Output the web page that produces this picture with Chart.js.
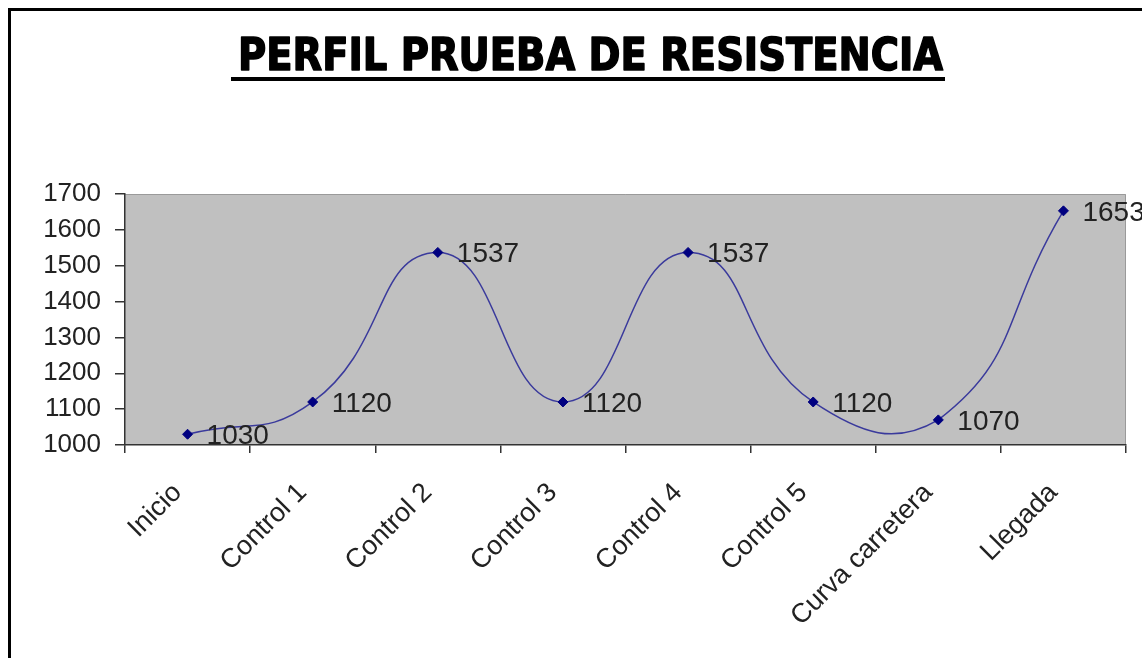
<!DOCTYPE html>
<html>
<head>
<meta charset="utf-8">
<title>Perfil prueba de resistencia</title>
<script src="https://cdn.jsdelivr.net/npm/chart.js@4.4.0/dist/chart.umd.min.js"></script>
<style>
  html, body { margin: 0; padding: 0; background: #fff; }
  #wrap { width: 1142px; height: 658px; }
</style>
</head>
<body>
<div id="wrap"><canvas id="perfil" width="1142" height="658"></canvas></div>
<script>
// datos del perfil
const titulo = 'PERFIL PRUEBA DE RESISTENCIA';
const puntos = ['Inicio', 'Control 1', 'Control 2', 'Control 3', 'Control 4', 'Control 5', 'Curva carretera', 'Llegada'];
const altitudes = [1030, 1120, 1537, 1120, 1537, 1120, 1070, 1653];
const ticksY = [1000, 1100, 1200, 1300, 1400, 1500, 1600, 1700];

const fuenteTexto = "'Liberation Sans', Arial, sans-serif";

// fondo blanco, marco exterior y zona gris del gráfico
const fondoPlugin = {
    id: 'fondo',
    beforeDraw(chart) {
        const ctx = chart.ctx;
        const a = chart.chartArea;
        ctx.save();
        ctx.fillStyle = '#fff';
        ctx.fillRect(0, 0, chart.width, chart.height);
        ctx.strokeStyle = '#000';
        ctx.lineWidth = 3;
        ctx.beginPath();
        ctx.moveTo(9.5, chart.height);
        ctx.lineTo(9.5, 9.5);
        ctx.lineTo(chart.width, 9.5);
        ctx.stroke();
        ctx.fillStyle = '#c0c0c0';
        ctx.fillRect(a.left, a.top, a.right - a.left, a.bottom - a.top);
        ctx.strokeStyle = '#9a9a9a';
        ctx.lineWidth = 1;
        ctx.beginPath();
        ctx.moveTo(a.left, a.top + 0.5);
        ctx.lineTo(a.right - 0.5, a.top + 0.5);
        ctx.lineTo(a.right - 0.5, a.bottom);
        ctx.stroke();
        ctx.restore();
    }
};

// título subrayado (letra estrecha: se comprime en horizontal)
const tituloPlugin = {
    id: 'tituloSubrayado',
    afterDraw(chart) {
        const ctx = chart.ctx;
        ctx.save();
        ctx.font = "bold 44px 'DejaVu Sans', sans-serif";
        ctx.fillStyle = '#000';
        ctx.strokeStyle = '#000';
        ctx.lineWidth = 1.6;
        ctx.lineJoin = 'round';
        ctx.textAlign = 'left';
        ctx.textBaseline = 'alphabetic';
        const w = ctx.measureText(titulo).width;
        const ancho = 705;
        ctx.translate(238, 70);
        ctx.scale(ancho / w, 1);
        ctx.fillText(titulo, 0, 0);
        ctx.strokeText(titulo, 0, 0);
        ctx.restore();
        ctx.save();
        ctx.fillStyle = '#000';
        ctx.fillRect(231, 77, 714, 4);
        ctx.restore();
    }
};

// etiquetas de valores junto a cada punto
const etiquetasPlugin = {
    id: 'etiquetas',
    afterDatasetsDraw(chart) {
        const ctx = chart.ctx;
        const meta = chart.getDatasetMeta(0);
        ctx.save();
        ctx.font = '28px ' + fuenteTexto;
        ctx.fillStyle = '#222';
        ctx.textAlign = 'left';
        ctx.textBaseline = 'middle';
        meta.data.forEach((pt, i) => {
            ctx.fillText(String(altitudes[i]), pt.x + 19, pt.y + 2);
        });
        ctx.restore();
    }
};

new Chart(document.getElementById('perfil'), {
    type: 'line',
    data: {
        labels: puntos,
        datasets: [{
            data: altitudes,
            borderColor: '#3a3a9c',
            borderWidth: 1.5,
            tension: 0.5,
            fill: false,
            pointStyle: 'rectRot',
            pointRadius: 5,
            pointBackgroundColor: '#000080',
            pointBorderColor: '#000080',
            pointBorderWidth: 1
        }]
    },
    options: {
        responsive: false,
        animation: false,
        devicePixelRatio: 1,
        layout: { padding: { top: 194, right: 16, left: 0, bottom: 0 } },
        plugins: {
            legend: { display: false },
            title: { display: false },
            tooltip: { enabled: false }
        },
        scales: {
            x: {
                offset: true,
                afterFit(scale) { scale.height = 213; },
                border: { display: true, color: '#333', width: 1.5 },
                grid: {
                    offset: true,
                    drawOnChartArea: false,
                    drawTicks: true,
                    tickLength: 8,
                    color: '#333',
                    lineWidth: 1.5
                },
                ticks: {
                    autoSkip: false,
                    minRotation: 45,
                    maxRotation: 45,
                    padding: 24,
                    labelOffset: -10,
                    color: '#222',
                    font: { family: fuenteTexto, size: 27 }
                }
            },
            y: {
                min: ticksY[0],
                max: ticksY[ticksY.length - 1],
                afterFit(scale) { scale.width = 125; },
                border: { display: true, color: '#333', width: 1.5 },
                grid: {
                    drawOnChartArea: false,
                    drawTicks: true,
                    tickLength: 10,
                    color: '#333',
                    lineWidth: 1.5
                },
                ticks: {
                    stepSize: ticksY[1] - ticksY[0],
                    padding: 14,
                    color: '#222',
                    font: { family: fuenteTexto, size: 26 },
                    callback: (v) => String(v)
                }
            }
        }
    },
    plugins: [fondoPlugin, etiquetasPlugin, tituloPlugin]
});
</script>
</body>
</html>
